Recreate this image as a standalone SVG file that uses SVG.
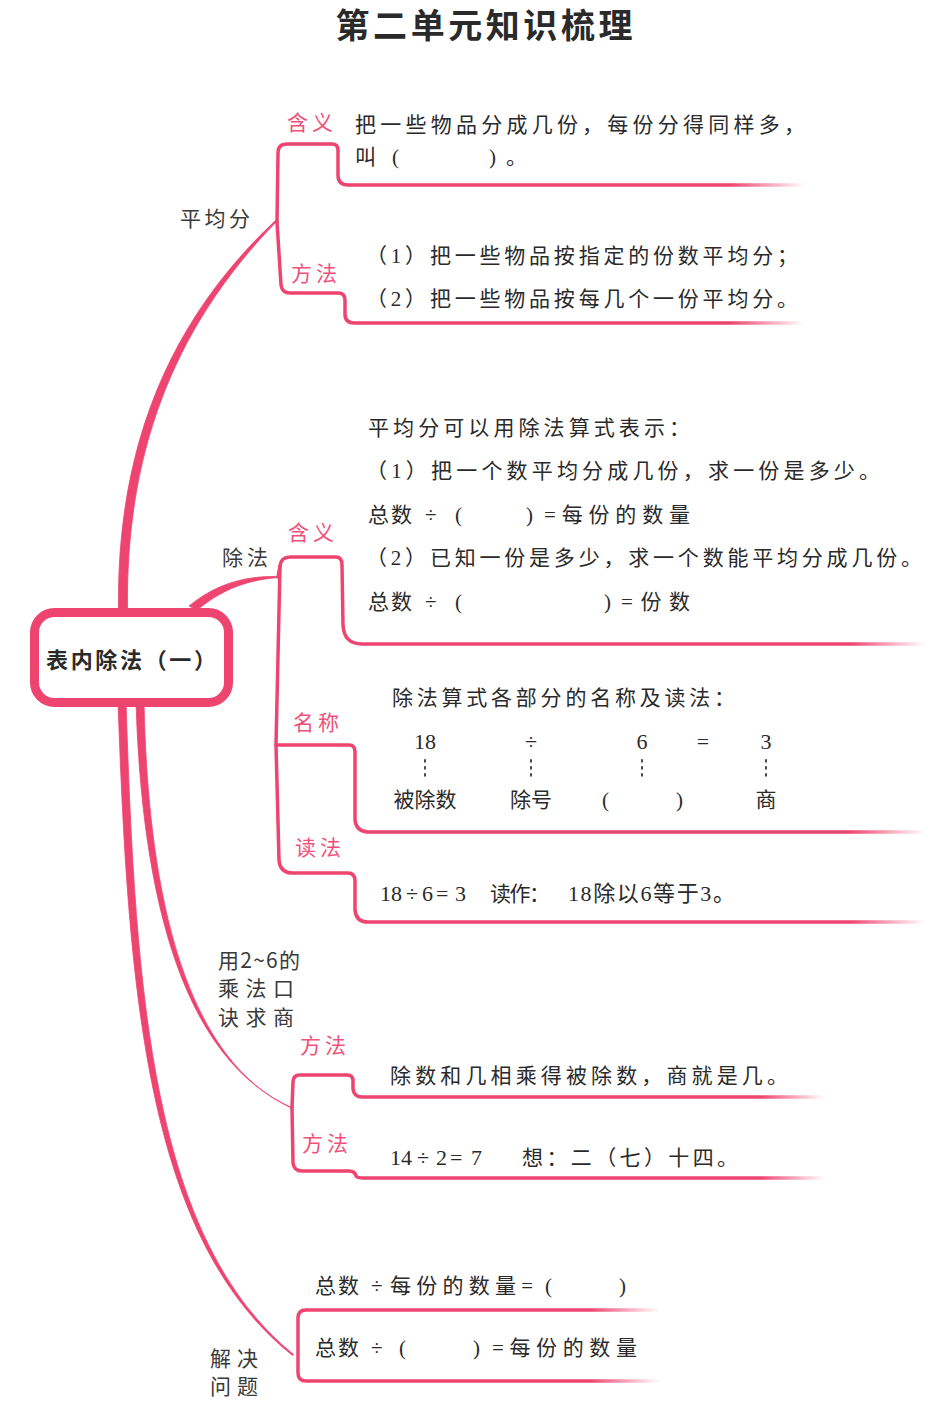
<svg xmlns="http://www.w3.org/2000/svg" width="948" height="1401" viewBox="0 0 948 1401">
<style>
.t{font-family:"Liberation Serif","Noto Sans CJK SC",serif;font-size:21px;fill:#2a2a2a}
.n{font-family:"Liberation Serif","Noto Sans CJK SC",serif;font-size:22px;fill:#2a2a2a}
.g{font-family:"Noto Sans CJK SC",sans-serif;font-size:21px;fill:#3a3a3a}
.lb{font-family:"Noto Sans CJK SC",sans-serif;font-size:21px;letter-spacing:4px;fill:#f0507a}
.br{fill:none;stroke-width:3.5;stroke-linejoin:round;stroke-linecap:round}
.tr{fill:#ee4470;stroke:#ee4470;stroke-width:0.8;stroke-linejoin:round}
.dot{stroke:#333;stroke-width:1.8;stroke-dasharray:1.8 5.2;stroke-linecap:round}
</style>
<defs>
<linearGradient id="f1" gradientUnits="userSpaceOnUse" x1="730" y1="0" x2="805" y2="0"><stop offset="0" stop-color="#ee4470"/><stop offset="1" stop-color="#ee4470" stop-opacity="0"/></linearGradient>
<linearGradient id="f2" gradientUnits="userSpaceOnUse" x1="850" y1="0" x2="925" y2="0"><stop offset="0" stop-color="#ee4470"/><stop offset="1" stop-color="#ee4470" stop-opacity="0"/></linearGradient>
<linearGradient id="f4" gradientUnits="userSpaceOnUse" x1="760" y1="0" x2="825" y2="0"><stop offset="0" stop-color="#ee4470"/><stop offset="1" stop-color="#ee4470" stop-opacity="0"/></linearGradient>
<linearGradient id="f5" gradientUnits="userSpaceOnUse" x1="590" y1="0" x2="660" y2="0"><stop offset="0" stop-color="#ee4470"/><stop offset="1" stop-color="#ee4470" stop-opacity="0"/></linearGradient>
</defs>
<rect width="948" height="1401" fill="#ffffff"/>

<g id="title">
<text x="484" y="38" text-anchor="middle" textLength="297" style="font-family:'Noto Sans CJK SC',sans-serif;font-size:34px;font-weight:bold;fill:#2a2a2a">第二单元知识梳理</text>
</g>

<g id="connectors">
<path class="tr" d="M118.5,610 C116.5,460 161,328 275.5,220.5 L276.5,221.5 C169,332 125.5,460 127.5,610 Z"/>
<path class="tr" d="M189,606 C212,587 240,575.5 278,576.5 L278,577.5 C241,580.5 218,593 197,610 Z"/>
<path class="tr" d="M136,702 C142,900 183.5,1060 292,1107.7 L292,1108.3 C186.5,1060 148,900 144,702 Z"/>
<path class="tr" d="M118,702 C128.5,1000 147.5,1240 292.5,1355.5 L293.5,1354.5 C152.5,1240 135.5,1000 126,702 Z"/>
</g>

<g id="center-node">
<rect x="34.5" y="612.5" width="194" height="90" rx="20" fill="#ffffff" stroke="#ee4470" stroke-width="9"/>
<text x="46" y="668" textLength="170" style="font-family:'Noto Sans CJK SC',sans-serif;font-size:22px;font-weight:bold;fill:#2a2a2a">表内除法（一）</text>
</g>

<g id="pingjunfen">
<text class="g" x="180" y="226" textLength="70">平均分</text>
<path class="br" stroke="url(#f1)" d="M277,222 L278,153 Q278,144 287,144 L332,144 Q338,144 338,150 L338,175 Q338,185 348,185 L805,185"/>
<path class="br" stroke="url(#f1)" d="M277,222 L281,285 Q282,293 290,293 L338,293 Q345,293 345,300 L345,314 Q345,323 354,323 L805,323"/>
<text class="lb" x="287" y="130">含义</text>
<text class="lb" x="291" y="281">方法</text>
<text class="t" x="355" y="132" textLength="450">把一些物品分成几份，每份分得同样多，</text>
<text class="t" x="355" y="164">叫</text>
<text class="t" x="392" y="164">(</text>
<text class="t" x="489" y="164">)</text>
<text class="t" x="506" y="164">。</text>
<text class="t" x="366" y="263" textLength="432">（1）把一些物品按指定的份数平均分；</text>
<text class="t" x="366" y="306" textLength="432">（2）把一些物品按每几个一份平均分。</text>
</g>

<g id="chufa">
<text class="g" x="222" y="565" textLength="46">除法</text>
<path class="br" stroke="url(#f2)" d="M278,577 L280,566 Q281,557 290,557 L336,557 Q342,557 342,565 L343,625 Q344,644 362,644 L925,644"/>
<path class="br" stroke="url(#f2)" d="M280,566 L276,745 L279,860 Q280,873 293,873 L348,873 Q355,873 355,881 L355,910 Q356,922 368,922 L925,922"/>
<path class="br" stroke="url(#f2)" d="M276,745 L349,745 Q355,745 355,752 L355,820 Q356,832 370,832 L925,832"/>
<text class="lb" x="288" y="540">含义</text>
<text class="lb" x="293" y="730">名称</text>
<text class="lb" x="295" y="855">读法</text>

<text class="t" x="368" y="435" textLength="322">平均分可以用除法算式表示：</text>
<text class="t" x="366" y="478" textLength="514">（1）把一个数平均分成几份，求一份是多少。</text>
<text class="t" x="368" y="522" textLength="44">总数</text>
<text class="t" x="425" y="522">÷</text>
<text class="t" x="455" y="522">(</text>
<text class="t" x="526" y="522">)</text>
<text class="t" x="544" y="522" textLength="146">=每份的数量</text>
<text class="t" x="366" y="565" textLength="556">（2）已知一份是多少，求一个数能平均分成几份。</text>
<text class="t" x="368" y="609" textLength="44">总数</text>
<text class="t" x="425" y="609">÷</text>
<text class="t" x="455" y="609">(</text>
<text class="t" x="604" y="609">)</text>
<text class="t" x="621" y="609" textLength="69">=份数</text>

<text class="t" x="392" y="705" textLength="343">除法算式各部分的名称及读法：</text>
<text class="n" x="425" y="749" text-anchor="middle">18</text>
<text class="n" x="531" y="749" text-anchor="middle">÷</text>
<text class="n" x="642" y="749" text-anchor="middle">6</text>
<text class="n" x="703" y="749" text-anchor="middle">=</text>
<text class="n" x="766" y="749" text-anchor="middle">3</text>
<line class="dot" x1="425" y1="760" x2="425" y2="776"/>
<line class="dot" x1="531" y1="760" x2="531" y2="776"/>
<line class="dot" x1="642" y1="760" x2="642" y2="776"/>
<line class="dot" x1="766" y1="760" x2="766" y2="776"/>
<text class="t" x="425" y="807" text-anchor="middle">被除数</text>
<text class="t" x="531" y="807" text-anchor="middle">除号</text>
<text class="t" x="602" y="807">(</text>
<text class="t" x="676" y="807">)</text>
<text class="t" x="766" y="807" text-anchor="middle">商</text>
<text class="n" x="380" y="901">18</text>
<text class="n" x="406" y="901">÷</text>
<text class="n" x="422" y="901">6</text>
<text class="n" x="436" y="901">=</text>
<text class="n" x="455" y="901">3</text>
<text class="t" x="490" y="901" textLength="60">读作：</text>
<text class="n" x="568" y="901" textLength="167">18除以6等于3。</text>
</g>

<g id="koujue">
<text class="g" x="218" y="968" textLength="82">用2~6的</text>
<text class="g" x="218" y="996" textLength="76">乘法口</text>
<text class="g" x="218" y="1025" textLength="76">诀求商</text>
<path class="br" stroke="url(#f4)" d="M292,1108 L293,1082 Q293,1075 300,1075 L347,1075 Q353,1075 353,1081 L353,1089 Q354,1097 362,1097 L825,1097"/>
<path class="br" stroke="url(#f4)" d="M292,1108 L293,1163 Q294,1171 302,1171 L349,1171 Q355,1171 356,1176 Q357,1178 364,1178 L825,1178"/>
<text class="lb" x="300" y="1053">方法</text>
<text class="lb" x="302" y="1151">方法</text>
<text class="t" x="390" y="1083" textLength="398">除数和几相乘得被除数，商就是几。</text>
<text class="n" x="390" y="1165">14</text>
<text class="n" x="417" y="1165">÷</text>
<text class="n" x="436" y="1165">2</text>
<text class="n" x="450" y="1165">=</text>
<text class="n" x="471" y="1165">7</text>
<text class="t" x="522" y="1165" textLength="216">想：二（七）十四。</text>
</g>

<g id="jiejue">
<text class="g" x="210" y="1366" textLength="48">解决</text>
<text class="g" x="210" y="1394" textLength="48">问题</text>
<path class="br" stroke="url(#f5)" d="M660,1310 L306,1310 Q298,1310 298,1318 L298,1373 Q298,1381 306,1381 L660,1381"/>
<text class="t" x="315" y="1293" textLength="44">总数</text>
<text class="t" x="371" y="1293">÷</text>
<text class="t" x="390" y="1293" textLength="143">每份的数量=</text>
<text class="t" x="545" y="1293">(</text>
<text class="t" x="619" y="1293">)</text>
<text class="t" x="315" y="1355" textLength="44">总数</text>
<text class="t" x="371" y="1355">÷</text>
<text class="t" x="399" y="1355">(</text>
<text class="t" x="473" y="1355">)</text>
<text class="t" x="492" y="1355" textLength="145">=每份的数量</text>
</g>
</svg>
